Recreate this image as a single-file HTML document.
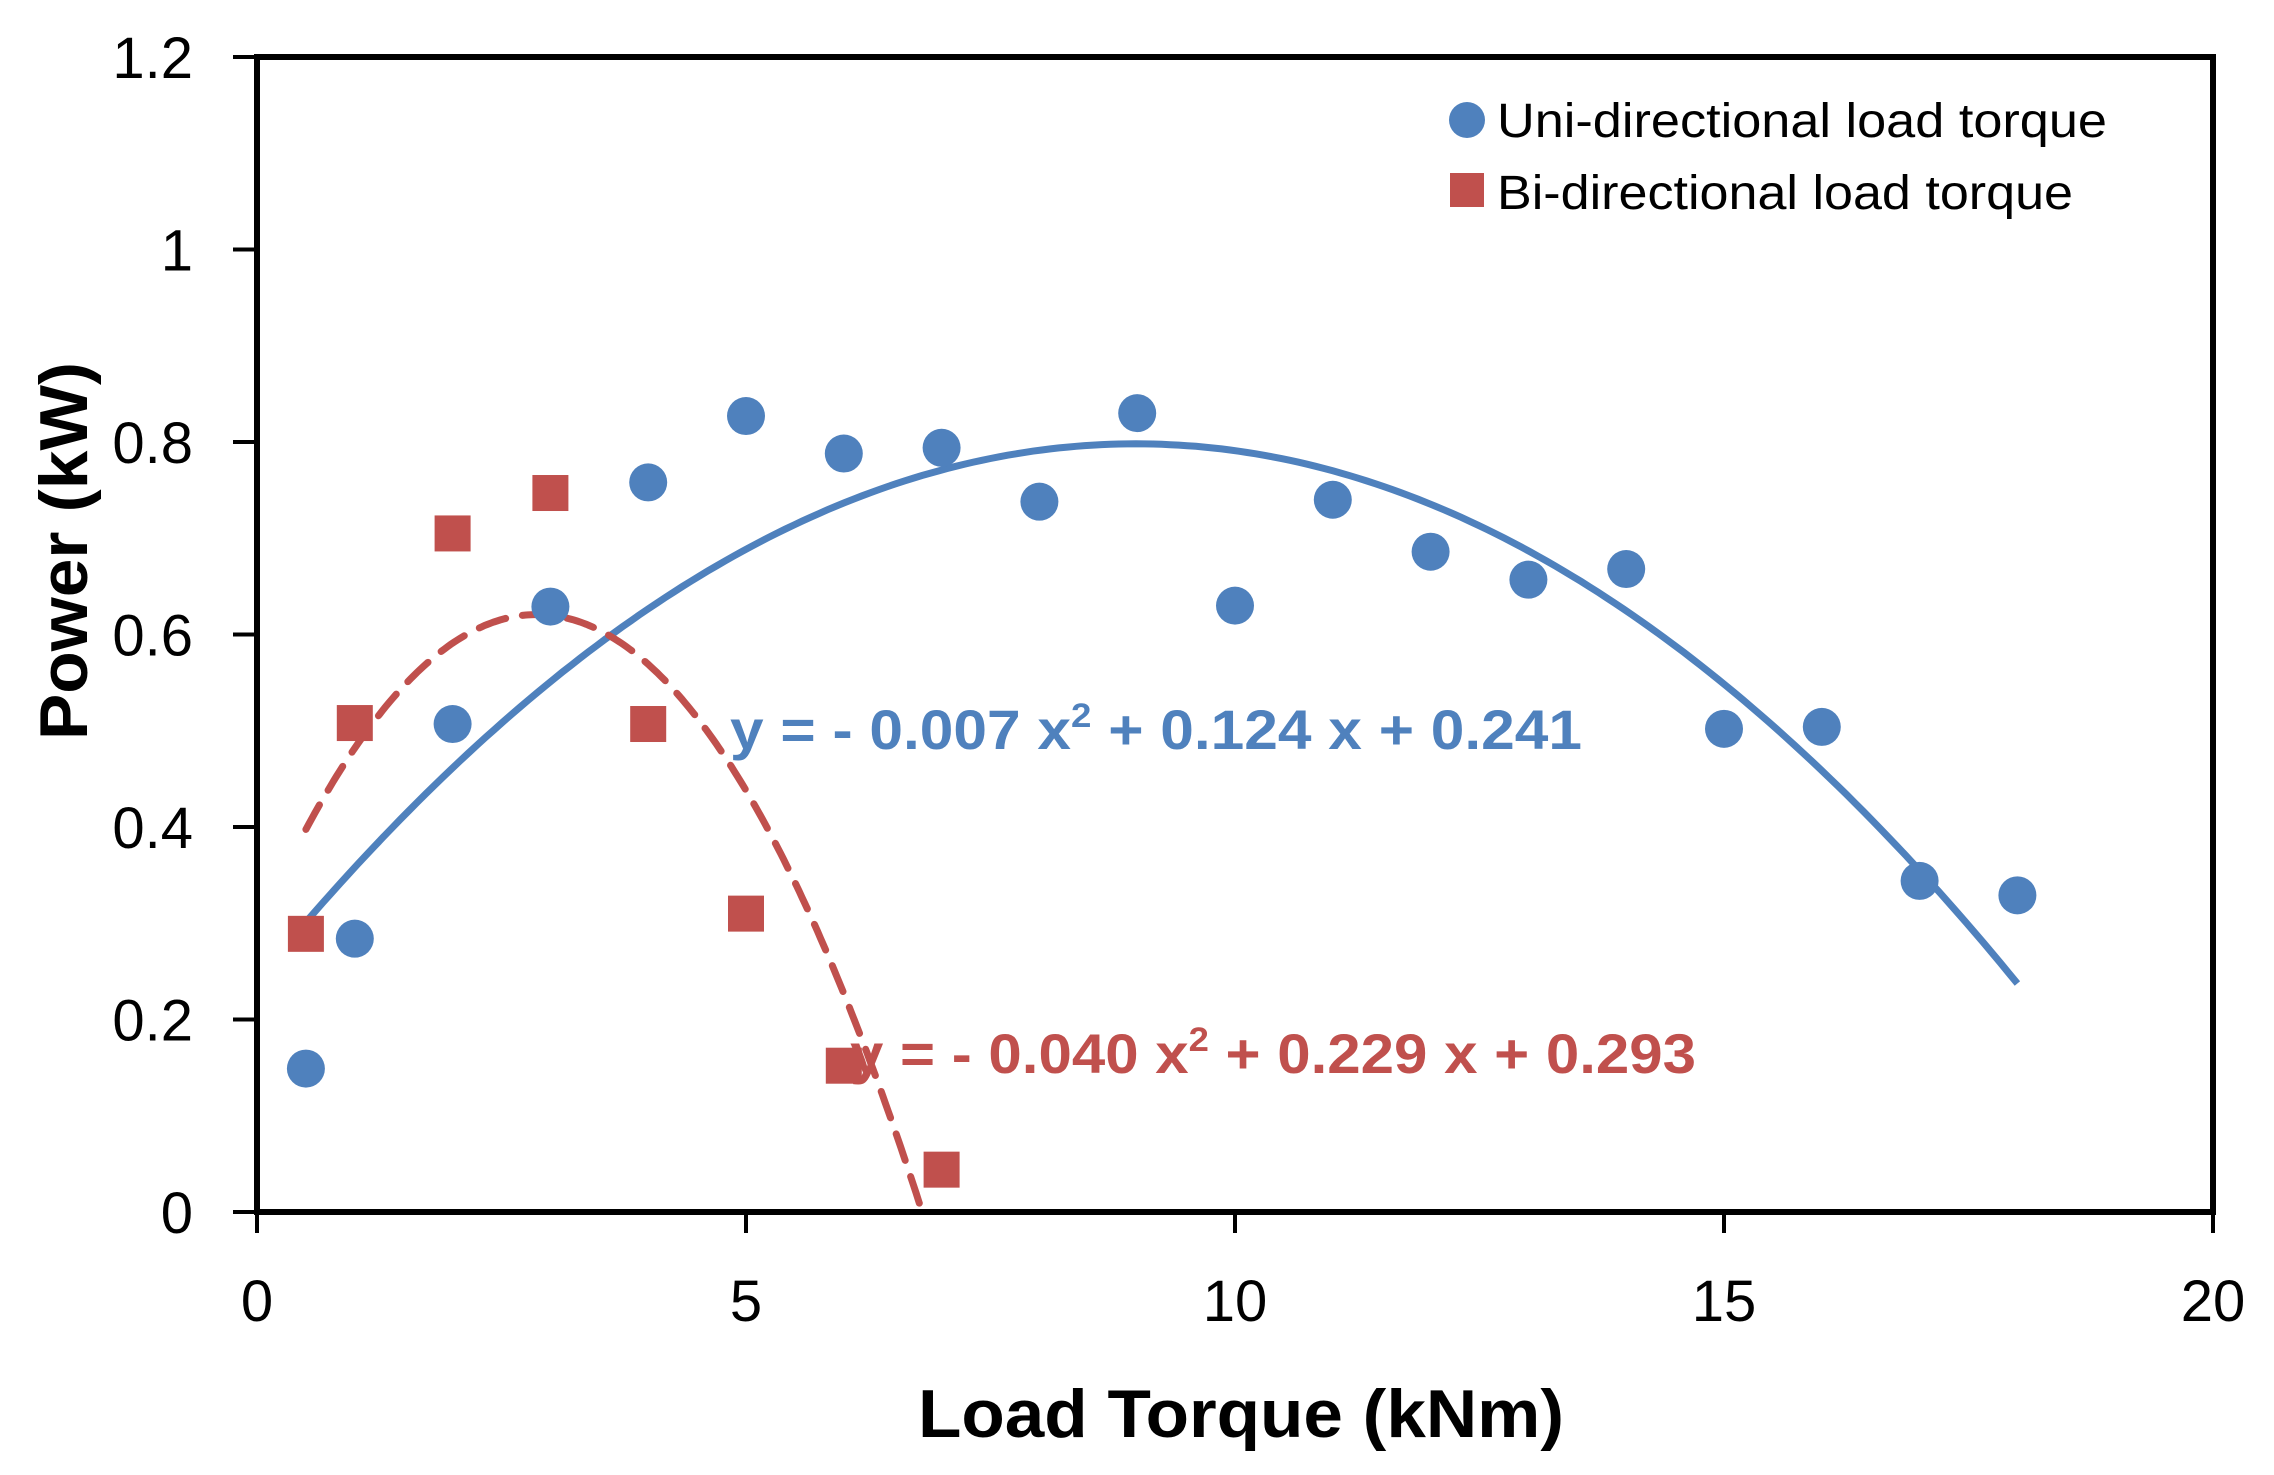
<!DOCTYPE html>
<html><head><meta charset="utf-8"><style>
html,body{margin:0;padding:0;background:#fff;}
svg{display:block;font-family:"Liberation Sans","Noto Sans CJK KR",sans-serif;}
</style></head><body>
<svg id="chart" width="2274" height="1475" viewBox="0 0 2274 1475">
<g id="axes"></g>
<text transform="translate(87,551) rotate(-90)" text-anchor="middle" font-size="68" font-weight="bold" textLength="378" lengthAdjust="spacingAndGlyphs">Power (kW)</text>
<text x="1241" y="1437" text-anchor="middle" font-size="68" font-weight="bold" textLength="646" lengthAdjust="spacingAndGlyphs">Load Torque (kNm)</text>
<g>
<circle cx="1467" cy="120" r="18" fill="#4F81BD"/>
<text x="1497" y="137" font-size="48" textLength="610" lengthAdjust="spacingAndGlyphs">Uni-directional load torque</text>
<rect x="1450" y="173" width="34" height="34" fill="#C0504D"/>
<text x="1497" y="209" font-size="48" textLength="576" lengthAdjust="spacingAndGlyphs">Bi-directional load torque</text>
</g>
<text x="730" y="749" font-size="56" font-weight="bold" fill="#4F81BD" textLength="852" lengthAdjust="spacingAndGlyphs">y = - 0.007 x<tspan dy="-22" font-size="34">2</tspan><tspan dy="22"> + 0.124 x + 0.241</tspan></text>
<text x="850" y="1073" font-size="56" font-weight="bold" fill="#C0504D" textLength="846" lengthAdjust="spacingAndGlyphs">y = - 0.040 x<tspan dy="-22" font-size="34">2</tspan><tspan dy="22"> + 0.229 x + 0.293</tspan></text>
<g id="marks"></g>
<g id="marks2"></g>
</svg>
<script>
const xTicks = [0, 5, 10, 15, 20];
const yTicks = [0, 0.2, 0.4, 0.6, 0.8, 1, 1.2];
const yTickLabels = ["0", "0.2", "0.4", "0.6", "0.8", "1", "1.2"];
const uniX = [0.5, 1, 2, 3, 4, 5, 6, 7, 8, 9, 10, 11, 12, 13, 14, 15, 16, 17, 18];
const uniY = [0.149, 0.284, 0.507, 0.629, 0.758, 0.827, 0.788, 0.794, 0.738, 0.830, 0.630, 0.740, 0.686, 0.657, 0.668, 0.502, 0.504, 0.344, 0.329];
const biX = [0.5, 1, 2, 3, 4, 5, 6, 7];
const biY = [0.289, 0.508, 0.705, 0.747, 0.507, 0.310, 0.152, 0.044];
const uniCoef = [-0.0069, 0.124, 0.241];
const biCoef = [-0.040, 0.229, 0.293];

const L = 257, R = 2213, T = 57, B = 1212;
const X = v => L + (v - 0) / 20 * (R - L);
const Y = v => B - v / 1.2 * (B - T);
const NS = "http://www.w3.org/2000/svg";
function mk(tag, attrs, parent) {
  const e = document.createElementNS(NS, tag);
  for (const k in attrs) e.setAttribute(k, attrs[k]);
  parent.appendChild(e);
  return e;
}
const axes = document.getElementById('axes');
const marks = document.getElementById('marks');
const marks2 = document.getElementById('marks2');

const frame = mk('rect', {x: L, y: T, width: R - L, height: B - T, fill: 'none', stroke: '#000', 'stroke-width': 6}, axes);



yTicks.forEach((v, i) => {
  const t = mk('line', {x1: 233, x2: L, y1: Y(v), y2: Y(v), stroke: '#000', 'stroke-width': 4}, axes);
  
  
  const lb = mk('text', {x: 193, y: Y(v) + 21, 'text-anchor': 'end', 'font-size': 58}, axes);
  lb.textContent = yTickLabels[i];
  
  
});
xTicks.forEach(v => {
  const t = mk('line', {x1: X(v), x2: X(v), y1: B, y2: 1233, stroke: '#000', 'stroke-width': 4}, axes);
  
  
  const lb = mk('text', {x: X(v), y: 1321, 'text-anchor': 'middle', 'font-size': 58}, axes);
  lb.textContent = String(v);
  
  
});

function curvePath(c, x0, x1) {
  let d = '';
  for (let i = 0; i <= 200; i++) {
    const x = x0 + (x1 - x0) * i / 200;
    const y = c[0] * x * x + c[1] * x + c[2];
    d += (i ? 'L' : 'M') + X(x).toFixed(1) + ' ' + Y(y).toFixed(1);
  }
  return d;
}
const uniTrend = mk('path', {d: curvePath(uniCoef, 0.5, 18), fill: 'none', stroke: '#4F81BD', 'stroke-width': 7}, marks);


const disc = biCoef[1] * biCoef[1] - 4 * biCoef[0] * biCoef[2];
const biEnd = (-biCoef[1] - Math.sqrt(disc)) / (2 * biCoef[0]);
const biTrend = mk('path', {d: curvePath(biCoef, 0.5, biEnd), fill: 'none', stroke: '#C0504D', 'stroke-width': 7, 'stroke-dasharray': '28 17', 'stroke-linecap': 'round'}, marks);



uniX.forEach((x, i) => {
  const c = mk('circle', {cx: X(x), cy: Y(uniY[i]), r: 19, fill: '#4F81BD'}, marks2);
  
  
});
biX.forEach((x, i) => {
  const s = mk('rect', {x: X(x) - 18, y: Y(biY[i]) - 18, width: 36, height: 36, fill: '#C0504D'}, marks2);
  
  
});
</script>
</body></html>
